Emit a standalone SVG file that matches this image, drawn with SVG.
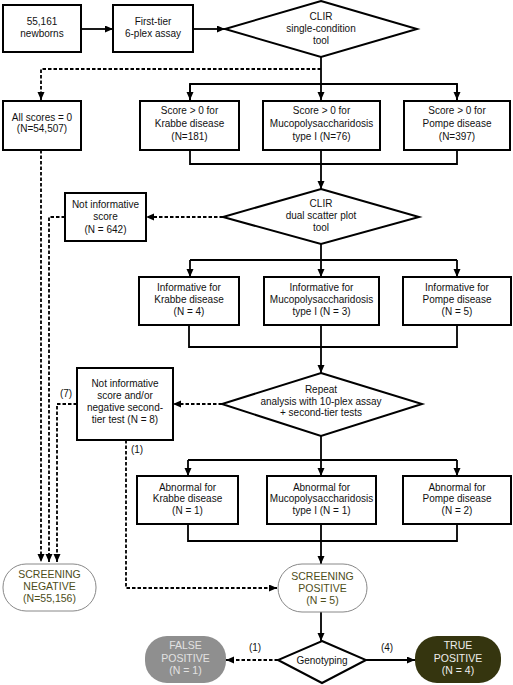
<svg xmlns="http://www.w3.org/2000/svg" width="513" height="685" viewBox="0 0 513 685">
<defs>
<marker id="ah" markerUnits="userSpaceOnUse" markerWidth="9" markerHeight="8" refX="8" refY="3.5" orient="auto">
<path d="M0,0 L8,3.5 L0,7 z" fill="#000"/>
</marker>
</defs>
<style>
text{font-family:"Liberation Sans",Arial,sans-serif;font-size:10px;text-anchor:middle;fill:#111}
.box{fill:#fff;stroke:#000;stroke-width:2}
.term{fill:#fff;stroke:#888;stroke-width:1}
.st text{fill:#4d4d19;font-size:10.5px}
.c{fill:none;stroke:#000;stroke-width:1.8}
.d{fill:none;stroke:#000;stroke-width:1.8;stroke-dasharray:3.5 2}
.lbl{font-size:10px}
</style>
<rect width="513" height="685" fill="#fff"/>

<g id="connectors">
<path class="c" d="M81,29 H113" marker-end="url(#ah)"/>
<path class="c" d="M193,29 H225" marker-end="url(#ah)"/>
<path class="c" d="M321,57 V100" marker-end="url(#ah)"/>
<path class="c" d="M190,100 V84 H457 V100" />
<path class="c" d="M190,84 V100" marker-end="url(#ah)"/>
<path class="c" d="M457,84 V100" marker-end="url(#ah)"/>
<path class="c" d="M190,150 V164 H457 V150"/>
<path class="c" d="M321,150 V189" marker-end="url(#ah)"/>
<path class="c" d="M321,244 V277" marker-end="url(#ah)"/>
<path class="c" d="M190,260 H457"/>
<path class="c" d="M190,260 V277" marker-end="url(#ah)"/>
<path class="c" d="M457,260 V277" marker-end="url(#ah)"/>
<path class="c" d="M189,325 V347 H457 V325"/>
<path class="c" d="M321,325 V373" marker-end="url(#ah)"/>
<path class="c" d="M321,436 V476" marker-end="url(#ah)"/>
<path class="c" d="M188,460 H457"/>
<path class="c" d="M188,460 V476" marker-end="url(#ah)"/>
<path class="c" d="M457,460 V476" marker-end="url(#ah)"/>
<path class="c" d="M188,524 V541 H457 V524"/>
<path class="c" d="M321,524 V564" marker-end="url(#ah)"/>
<path class="c" d="M321,612 V641" marker-end="url(#ah)"/>
<path class="c" d="M366,660 H415" marker-end="url(#ah)"/>

<path class="d" d="M321,69 H41 V100" marker-end="url(#ah)"/>
<path class="d" d="M41,150 V562" marker-end="url(#ah)"/>
<path class="d" d="M223,217 H146" marker-end="url(#ah)"/>
<path class="d" d="M65,217 H49 V562" marker-end="url(#ah)"/>
<path class="d" d="M222,404 H173" marker-end="url(#ah)"/>
<path class="d" d="M77,404 H57 V562" marker-end="url(#ah)"/>
<path class="d" d="M126,440 V588 H277" marker-end="url(#ah)"/>
<path class="d" d="M278,660 H226" marker-end="url(#ah)"/>

<text class="lbl" x="66" y="397">(7)</text>
<text class="lbl" x="137" y="453">(1)</text>
<text class="lbl" x="255" y="651">(1)</text>
<text class="lbl" x="387" y="651">(4)</text>
</g>

<g id="newborns">
<rect class="box" x="3" y="5" width="78" height="47"/>
<text x="42" y="25">55,161</text>
<text x="42" y="37">newborns</text>
</g>
<g id="first-tier">
<rect class="box" x="113" y="5" width="80" height="47"/>
<text x="153" y="25">First-tier</text>
<text x="153" y="37">6-plex assay</text>
</g>
<g id="clir-single">
<polygon class="box" points="321,1 417,29 321,57 225,29"/>
<text x="321" y="20">CLIR</text>
<text x="321" y="32">single-condition</text>
<text x="321" y="44">tool</text>
</g>

<g id="all-zero">
<rect class="box" x="3" y="101" width="78" height="49"/>
<text x="42" y="121">All scores = 0</text>
<text x="42" y="132">(N=54,507)</text>
</g>
<g id="score-krabbe">
<rect class="box" x="140" y="101" width="99" height="49"/>
<text x="189.5" y="114">Score &gt; 0 for</text>
<text x="189.5" y="127">Krabbe disease</text>
<text x="189.5" y="140">(N=181)</text>
</g>
<g id="score-mps">
<rect class="box" x="263" y="101" width="117" height="49"/>
<text x="321.5" y="114">Score &gt; 0 for</text>
<text x="321.5" y="127">Mucopolysaccharidosis</text>
<text x="321.5" y="140">type I (N=76)</text>
</g>
<g id="score-pompe">
<rect class="box" x="404" y="101" width="106" height="49"/>
<text x="457" y="114">Score &gt; 0 for</text>
<text x="457" y="127">Pompe disease</text>
<text x="457" y="140">(N=397)</text>
</g>

<g id="clir-dual">
<polygon class="box" points="321,189 419,217 321,244 223,217"/>
<text x="321" y="207">CLIR</text>
<text x="321" y="219">dual scatter plot</text>
<text x="321" y="231">tool</text>
</g>
<g id="not-informative">
<rect class="box" x="65" y="193" width="81" height="48"/>
<text x="105.5" y="208">Not informative</text>
<text x="105.5" y="220">score</text>
<text x="105.5" y="233">(N = 642)</text>
</g>

<g id="inf-krabbe">
<rect class="box" x="139" y="277" width="100" height="48"/>
<text x="189" y="291">Informative for</text>
<text x="189" y="303">Krabbe disease</text>
<text x="189" y="315">(N = 4)</text>
</g>
<g id="inf-mps">
<rect class="box" x="264" y="277" width="115" height="48"/>
<text x="321.5" y="291">Informative for</text>
<text x="321.5" y="303">Mucopolysaccharidosis</text>
<text x="321.5" y="315">type I (N = 3)</text>
</g>
<g id="inf-pompe">
<rect class="box" x="403" y="277" width="108" height="48"/>
<text x="457" y="291">Informative for</text>
<text x="457" y="303">Pompe disease</text>
<text x="457" y="315">(N = 5)</text>
</g>

<g id="repeat">
<polygon class="box" points="321,373 422,404 321,436 222,404"/>
<text x="321" y="393">Repeat</text>
<text x="321" y="405">analysis with 10-plex assay</text>
<text x="321" y="416">+ second-tier tests</text>
</g>
<g id="not-inf-2">
<rect class="box" x="77" y="368" width="96" height="72"/>
<text x="125" y="387">Not informative</text>
<text x="125" y="399">score and/or</text>
<text x="125" y="411">negative second-</text>
<text x="125" y="423">tier test (N = 8)</text>
</g>

<g id="abn-krabbe">
<rect class="box" x="137" y="476" width="101" height="48"/>
<text x="187.5" y="491">Abnormal for</text>
<text x="187.5" y="502">Krabbe disease</text>
<text x="187.5" y="514">(N = 1)</text>
</g>
<g id="abn-mps">
<rect class="box" x="267" y="476" width="109" height="48"/>
<text x="321.5" y="491">Abnormal for</text>
<text x="321.5" y="502">Mucopolysaccharidosis</text>
<text x="321.5" y="514">type I (N = 1)</text>
</g>
<g id="abn-pompe">
<rect class="box" x="403" y="476" width="108" height="48"/>
<text x="457" y="491">Abnormal for</text>
<text x="457" y="502">Pompe disease</text>
<text x="457" y="514">(N = 2)</text>
</g>

<g id="screening-negative" class="st">
<rect class="term" x="3" y="564" width="93" height="47" rx="23" ry="23"/>
<text x="49.5" y="578">SCREENING</text>
<text x="49.5" y="590">NEGATIVE</text>
<text x="49.5" y="602">(N=55,156)</text>
</g>
<g id="screening-positive" class="st">
<rect class="term" x="278" y="564" width="89" height="48" rx="24" ry="24"/>
<text x="322.5" y="580">SCREENING</text>
<text x="322.5" y="592">POSITIVE</text>
<text x="322.5" y="604">(N = 5)</text>
</g>

<g id="genotyping">
<polygon class="box" points="322,641 366,660 322,683 278,660"/>
<text x="322" y="664">Genotyping</text>
</g>
<g id="false-positive">
<rect x="145" y="636" width="81" height="47" rx="22" ry="22" fill="#8f8f8f"/>
<text x="185.5" y="649" style="fill:#e2e2e2;font-size:10.5px">FALSE</text>
<text x="185.5" y="662" style="fill:#e2e2e2;font-size:10.5px">POSITIVE</text>
<text x="185.5" y="674" style="fill:#e2e2e2;font-size:10.5px">(N = 1)</text>
</g>
<g id="true-positive">
<rect x="415" y="636" width="86" height="47" rx="22" ry="22" fill="#35350f"/>
<text x="458" y="649" style="fill:#eeeeee;font-size:10.5px">TRUE</text>
<text x="458" y="662" style="fill:#eeeeee;font-size:10.5px">POSITIVE</text>
<text x="458" y="674" style="fill:#eeeeee;font-size:10.5px">(N = 4)</text>
</g>
</svg>
